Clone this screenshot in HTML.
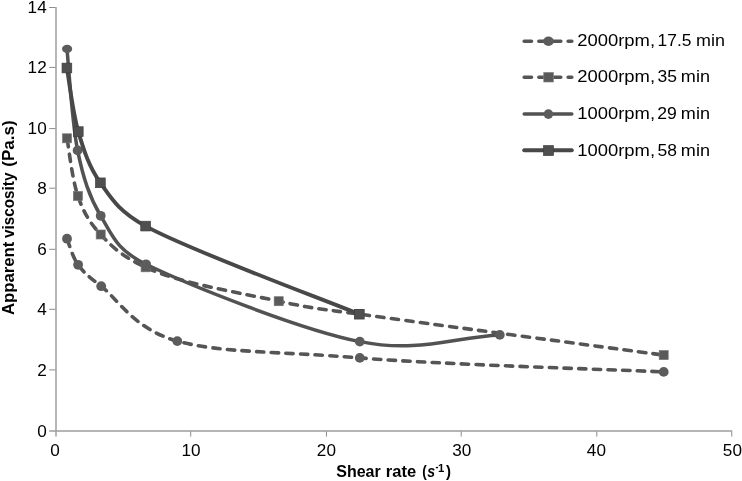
<!DOCTYPE html>
<html><head><meta charset="utf-8"><title>Chart</title>
<style>html,body{margin:0;padding:0;background:#fff;}body{width:742px;height:481px;overflow:hidden;font-family:"Liberation Sans",sans-serif;}</style></head>
<body>
<svg width="742" height="481" viewBox="0 0 742 481" style="display:block;filter:grayscale(1);font-family:'Liberation Sans',sans-serif">
<rect width="742" height="481" fill="#fff"/>
<g stroke="#868686" stroke-width="1.2" fill="none">
<path d="M56.0,7.00 V436.6"/>
<path d="M49.2,431.0 H732.25" stroke-width="1.4" stroke="#9c9c9c"/>
</g>
<g stroke="#8c8c8c" stroke-width="1" fill="none">
<path d="M49.2,369.90 H55.5"/>
<path d="M49.2,309.30 H55.5"/>
<path d="M49.2,249.30 H55.5"/>
<path d="M49.2,188.20 H55.5"/>
<path d="M49.2,128.60 H55.5"/>
<path d="M49.2,67.40 H55.5"/>
<path d="M49.2,7.50 H55.5"/>
<path d="M190.70,431.5 V436.6"/>
<path d="M326.45,431.5 V436.6"/>
<path d="M461.20,431.5 V436.6"/>
<path d="M596.80,431.5 V436.6"/>
<path d="M731.75,431.5 V436.6"/>
</g>
<g font-size="17.0" fill="#000">
<text transform="translate(46.7,436.65) scale(1.01,1)" text-anchor="end">0</text>
<text transform="translate(46.7,375.65) scale(1.01,1)" text-anchor="end">2</text>
<text transform="translate(46.7,315.05) scale(1.01,1)" text-anchor="end">4</text>
<text transform="translate(46.7,255.05) scale(1.01,1)" text-anchor="end">6</text>
<text transform="translate(46.7,193.95) scale(1.01,1)" text-anchor="end">8</text>
<text transform="translate(46.7,134.35) scale(1.01,1)" text-anchor="end">10</text>
<text transform="translate(46.7,73.15) scale(1.01,1)" text-anchor="end">12</text>
<text transform="translate(46.7,13.25) scale(1.01,1)" text-anchor="end">14</text>
<text transform="translate(54.90,455.6) scale(1.01,1)" text-anchor="middle">0</text>
<text transform="translate(191.10,455.6) scale(1.01,1)" text-anchor="middle">10</text>
<text transform="translate(326.40,455.6) scale(1.01,1)" text-anchor="middle">20</text>
<text transform="translate(461.70,455.6) scale(1.01,1)" text-anchor="middle">30</text>
<text transform="translate(596.40,455.6) scale(1.01,1)" text-anchor="middle">40</text>
<text transform="translate(732.40,455.6) scale(1.01,1)" text-anchor="middle">50</text>
</g>
<g font-size="17" font-weight="bold" fill="#000">
<text transform="translate(14.2,315.09) rotate(-90)" textLength="73.41" lengthAdjust="spacingAndGlyphs">Apparent</text>
<text transform="translate(14.2,237.9) rotate(-90)" textLength="65.31" lengthAdjust="spacingAndGlyphs">viscosity</text>
<text transform="translate(14.2,166.75) rotate(-90)" textLength="46.35" lengthAdjust="spacingAndGlyphs">(Pa.s)</text>
<text x="336.23" y="476.7" textLength="44.51" lengthAdjust="spacingAndGlyphs">Shear</text>
<text x="385.83" y="476.7" textLength="30.3" lengthAdjust="spacingAndGlyphs">rate</text>
<text x="422.3" y="476.7" textLength="4.54" lengthAdjust="spacingAndGlyphs">(</text>
<text x="427.29" y="476.7" textLength="7.9" lengthAdjust="spacingAndGlyphs" font-style="italic">s</text>
<text x="446.1" y="476.7" textLength="4.99" lengthAdjust="spacingAndGlyphs">)</text>
<text x="435.61" y="470.30" font-size="10.8" textLength="2.9" lengthAdjust="spacingAndGlyphs">-</text>
<text x="438.13" y="471.70" font-size="10.8" textLength="6.3" lengthAdjust="spacingAndGlyphs">1</text>
</g>
<path d="M67.00,238.70 C68.85,243.05 72.40,256.88 78.10,264.80 C83.80,272.72 88.72,276.60 101.20,286.20 C117.73,298.92 134.20,329.15 177.30,341.10 C220.40,353.05 278.84,351.26 359.80,357.90 C440.76,364.54 613.05,369.57 663.70,371.90" fill="none" stroke="#555555" stroke-width="3.6" stroke-linecap="round" stroke-dasharray="7.3 7.35" stroke-dashoffset="-1.1"/>
<circle cx="67.0" cy="238.7" r="4.9" fill="#5c5c5c"/><circle cx="78.1" cy="264.8" r="4.9" fill="#5c5c5c"/><circle cx="101.2" cy="286.2" r="4.9" fill="#5c5c5c"/><circle cx="177.3" cy="341.1" r="4.9" fill="#5c5c5c"/><circle cx="359.8" cy="357.9" r="4.9" fill="#5c5c5c"/><circle cx="663.7" cy="371.9" r="4.9" fill="#5c5c5c"/>
<path d="M67.00,138.30 C68.82,147.92 72.28,179.97 77.90,196.00 C83.52,212.03 89.42,222.62 100.70,234.50 C111.98,246.38 120.44,255.47 145.60,267.30 C179.99,283.46 243.05,293.38 278.70,301.20 C314.35,309.02 318.98,308.53 359.50,314.20 C423.67,323.18 613.00,348.28 663.70,355.10" fill="none" stroke="#555555" stroke-width="3.6" stroke-linecap="round" stroke-dasharray="7.3 7.35" stroke-dashoffset="-1.5"/>
<rect x="62.50" y="133.80" width="9.0" height="9.0" fill="#5a5a5a" stroke="#767676" stroke-width="0.7"/><rect x="73.40" y="191.50" width="9.0" height="9.0" fill="#5a5a5a" stroke="#767676" stroke-width="0.7"/><rect x="96.20" y="230.00" width="9.0" height="9.0" fill="#5a5a5a" stroke="#767676" stroke-width="0.7"/><rect x="141.10" y="262.80" width="9.0" height="9.0" fill="#5a5a5a" stroke="#767676" stroke-width="0.7"/><rect x="274.20" y="296.70" width="9.0" height="9.0" fill="#5a5a5a" stroke="#767676" stroke-width="0.7"/><rect x="355.00" y="309.70" width="9.0" height="9.0" fill="#5a5a5a" stroke="#767676" stroke-width="0.7"/><rect x="659.20" y="350.60" width="9.0" height="9.0" fill="#5a5a5a" stroke="#767676" stroke-width="0.7"/>
<path d="M67.00,49.50 C68.77,66.32 71.98,122.68 77.60,150.40 C83.22,178.12 89.30,196.82 100.70,215.80 C112.10,234.78 116.15,249.81 146.00,264.30 C189.18,285.27 300.83,329.83 359.80,341.60 C418.77,353.37 453.85,337.10 499.80,334.90" fill="none" stroke="#525252" stroke-width="3.5" stroke-linecap="round" stroke-linejoin="round"/>
<ellipse cx="67.1" cy="48.9" rx="5.1" ry="4.2" fill="#5c5c5c"/><circle cx="77.6" cy="150.4" r="4.9" fill="#5c5c5c"/><circle cx="100.7" cy="215.8" r="4.9" fill="#5c5c5c"/><circle cx="146.0" cy="264.3" r="4.9" fill="#5c5c5c"/><circle cx="359.8" cy="341.6" r="4.9" fill="#5c5c5c"/><circle cx="499.8" cy="334.9" r="4.9" fill="#5c5c5c"/>
<path d="M66.90,68.00 C68.80,78.60 72.72,112.47 78.30,131.60 C83.88,150.73 89.18,167.05 100.40,182.80 C111.62,198.55 118.29,210.81 145.60,226.10 C187.82,249.74 323.68,299.52 359.30,314.20" fill="none" stroke="#484848" stroke-width="3.9" stroke-linecap="round" stroke-linejoin="round"/>
<rect x="62.05" y="63.15" width="9.7" height="9.7" fill="#4f4f4f" stroke="#3e3e3e" stroke-width="0.7"/><rect x="73.45" y="126.75" width="9.7" height="9.7" fill="#4f4f4f" stroke="#3e3e3e" stroke-width="0.7"/><rect x="95.55" y="177.95" width="9.7" height="9.7" fill="#4f4f4f" stroke="#3e3e3e" stroke-width="0.7"/><rect x="140.75" y="221.25" width="9.7" height="9.7" fill="#4f4f4f" stroke="#3e3e3e" stroke-width="0.7"/><rect x="354.45" y="309.35" width="9.7" height="9.7" fill="#4f4f4f" stroke="#3e3e3e" stroke-width="0.7"/>
<path d="M524.2,41.3 H571.8" stroke="#555555" stroke-width="3.6" stroke-linecap="round" stroke-dasharray="7.3 7.35" fill="none"/>
<ellipse cx="548.5" cy="41.3" rx="5.4" ry="4.7" fill="#5c5c5c"/>
<path d="M524.2,77.2 H571.8" stroke="#555555" stroke-width="3.6" stroke-linecap="round" stroke-dasharray="7.3 7.35" fill="none"/>
<rect x="543.75" y="72.40" width="9.6" height="9.6" fill="#5a5a5a" stroke="#858585" stroke-width="0.7"/>
<path d="M524.2,114.1 H571.8" stroke="#525252" stroke-width="3.5" stroke-linecap="round" fill="none"/>
<circle cx="548.4" cy="114.1" r="4.8" fill="#5c5c5c"/>
<path d="M524.2,150.3 H571.8" stroke="#484848" stroke-width="3.9" stroke-linecap="round" fill="none"/>
<rect x="543.55" y="145.65" width="9.9" height="9.9" fill="#4f4f4f" stroke="#3e3e3e" stroke-width="0.7"/>
<g font-size="16" fill="#000">
<text x="577.24" y="46.3" textLength="77.81" lengthAdjust="spacingAndGlyphs">2000rpm,</text>
<text x="657.54" y="46.3" textLength="33.86" lengthAdjust="spacingAndGlyphs">17.5</text>
<text x="696.08" y="46.3" textLength="28.87" lengthAdjust="spacingAndGlyphs">min</text>
<text x="577.24" y="82.1" textLength="77.81" lengthAdjust="spacingAndGlyphs">2000rpm,</text>
<text x="657.55" y="82.1" textLength="19.44" lengthAdjust="spacingAndGlyphs">35</text>
<text x="680.87" y="82.1" textLength="29.09" lengthAdjust="spacingAndGlyphs">min</text>
<text x="577.26" y="119.2" textLength="77.78" lengthAdjust="spacingAndGlyphs">1000rpm,</text>
<text x="657.27" y="119.2" textLength="19.6" lengthAdjust="spacingAndGlyphs">29</text>
<text x="680.87" y="119.2" textLength="29.09" lengthAdjust="spacingAndGlyphs">min</text>
<text x="577.26" y="156.2" textLength="77.78" lengthAdjust="spacingAndGlyphs">1000rpm,</text>
<text x="657.55" y="156.2" textLength="19.44" lengthAdjust="spacingAndGlyphs">58</text>
<text x="680.87" y="156.2" textLength="29.09" lengthAdjust="spacingAndGlyphs">min</text>
</g>
</svg>
</body></html>
